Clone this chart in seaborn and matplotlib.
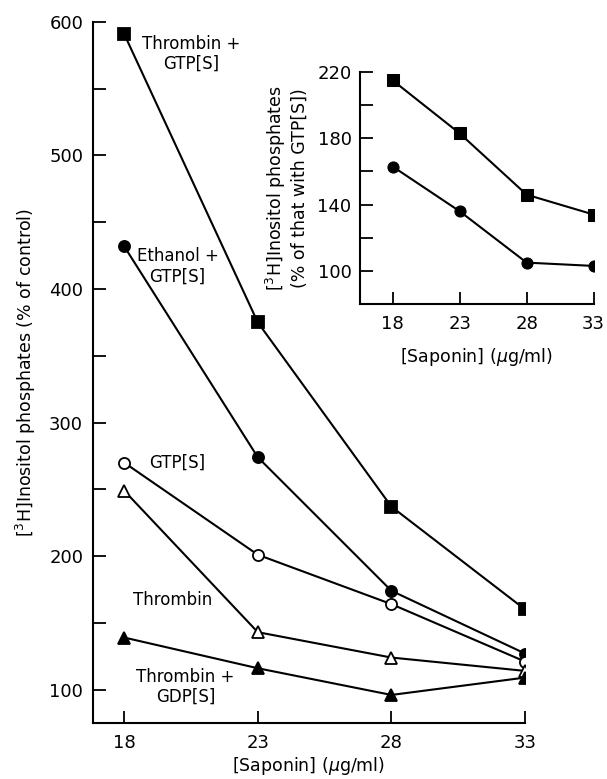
import numpy as np
import pandas as pd
import matplotlib
matplotlib.use('agg')
import matplotlib.pyplot as plt
import seaborn as sns

# saponin concentrations (ug/ml)
saponin = [18, 23, 28, 33]

# main panel, % of control
thrombin_gtps = [591, 375, 237, 160]
ethanol_gtps = [432, 274, 174, 127]
gtps = [270, 201, 164, 121]
thrombin = [249, 143, 124, 114]
thrombin_gdps = [139, 116, 96, 109]

# inset, % of that with GTP[S]
inset_squares = [215, 183, 146, 134]
inset_circles = [163, 136, 105, 103]

main_labels = ["Thrombin +\nGTP[S]", "Ethanol +\nGTP[S]", "GTP[S]", "Thrombin", "Thrombin +\nGDP[S]"]
label_pos = [(20.5, 576), (20.0, 417), (20.0, 270), (19.8, 167), (20.3, 102)]

sns.set_style("ticks")
plt.rcParams['font.family'] = ['DejaVu Sans']
plt.rcParams['mathtext.fontset'] = 'dejavusans'
for k in ['text.color', 'axes.labelcolor', 'xtick.color', 'ytick.color', 'axes.edgecolor']:
    plt.rcParams[k] = 'black'

fig = plt.figure(figsize=(6.07, 7.79), dpi=100)
ax = fig.add_axes([0.153, 0.0719, 0.712, 0.900])

series = [
    (thrombin_gtps, 's', 'black'),
    (ethanol_gtps, 'o', 'black'),
    (gtps, 'o', 'white'),
    (thrombin, '^', 'white'),
    (thrombin_gdps, '^', 'black'),
]
for vals, mk, fc in series:
    sns.lineplot(x=saponin, y=vals, ax=ax, color='black', linewidth=1.5,
                 marker=mk, markersize=8, markerfacecolor=fc,
                 markeredgecolor='black', markeredgewidth=1.3)

for txt, (tx, ty) in zip(main_labels, label_pos):
    ax.text(tx, ty, txt, ha='center', va='center', fontsize=12, linespacing=1.15)

ax.set_xlim(16.83, 33)
ax.set_ylim(75, 600)
ax.set_xticks(saponin)
ax.set_yticks([100, 200, 300, 400, 500, 600])
ax.set_yticks([150, 250, 350, 450, 550], minor=True)
ax.tick_params(axis='both', direction='in', length=9, width=1.3, labelsize=13)
ax.tick_params(axis='y', which='minor', direction='in', length=9, width=1.3)
ax.tick_params(axis='x', pad=8)
ax.tick_params(axis='y', pad=7)
sns.despine(ax=ax)
for s in ['left', 'bottom']:
    ax.spines[s].set_linewidth(1.5)
ax.set_xlabel("[Saponin] ($\\mu$g/ml)", fontsize=12.5, labelpad=2)
ax.set_ylabel("[$^3$H]Inositol phosphates (% of control)", fontsize=12.5, labelpad=8)

# inset
axi = fig.add_axes([0.593, 0.6097, 0.385, 0.2978])
for vals, mk in [(inset_squares, 's'), (inset_circles, 'o')]:
    sns.lineplot(x=saponin, y=vals, ax=axi, color='black', linewidth=1.5,
                 marker=mk, markersize=8, markerfacecolor='black',
                 markeredgecolor='black')
axi.set_xlim(15.56, 33)
axi.set_ylim(80, 220)
axi.set_xticks(saponin)
axi.set_yticks([100, 140, 180, 220])
axi.set_yticks([120, 160, 200], minor=True)
axi.tick_params(axis='both', direction='in', length=9, width=1.3, labelsize=13)
axi.tick_params(axis='y', which='minor', direction='in', length=9, width=1.3)
axi.tick_params(axis='x', pad=8)
axi.tick_params(axis='y', pad=6)
sns.despine(ax=axi)
axi.patch.set_alpha(0)
for s in ['left', 'bottom']:
    axi.spines[s].set_linewidth(1.5)
axi.set_xlabel("[Saponin] ($\\mu$g/ml)", fontsize=12.5, labelpad=9)
axi.set_ylabel("[$^3$H]Inositol phosphates\n(% of that with GTP[S])", fontsize=12.5, labelpad=6)

fig.savefig("out.png", dpi=100)
